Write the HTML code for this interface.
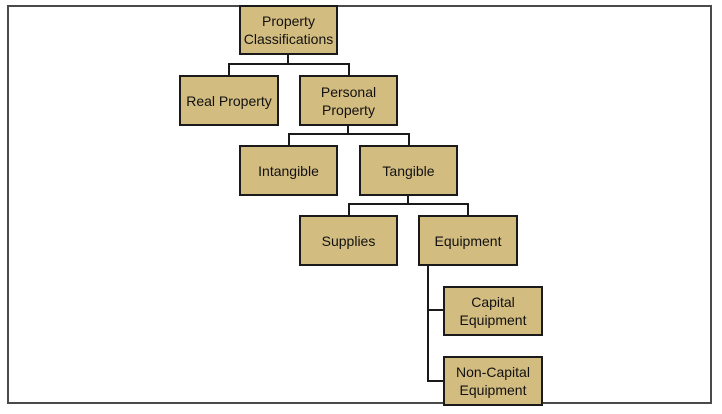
<!DOCTYPE html>
<html><head><meta charset="utf-8"><style>
html,body{margin:0;padding:0;background:#fff;width:722px;height:414px;overflow:hidden;position:relative}
.frame{position:absolute;left:7px;top:5px;width:705px;height:399px;border-left:2px solid #4a4a4a;border-top:2px solid #4a4a4a;border-right:2px solid #4a4a4a;border-bottom:2px solid #4a4a4a;box-sizing:border-box}
.b{position:absolute;box-sizing:border-box;background:#d3bc80;border:2px solid #1a1a1a;display:flex;align-items:center;justify-content:center;text-align:center;font-family:"Liberation Sans",sans-serif;font-size:14px;line-height:18px;color:#111}
.l{position:absolute;background:#1a1a1a}
</style></head><body>
<div class="frame"></div>
<!-- connectors -->
<div class="l" style="left:287px;top:54px;width:2px;height:11px"></div>
<div class="l" style="left:228px;top:63px;width:122px;height:2px"></div>
<div class="l" style="left:228px;top:63px;width:2px;height:13px"></div>
<div class="l" style="left:348px;top:63px;width:2px;height:13px"></div>

<div class="l" style="left:347px;top:124px;width:2px;height:11px"></div>
<div class="l" style="left:288px;top:133px;width:122px;height:2px"></div>
<div class="l" style="left:288px;top:133px;width:2px;height:13px"></div>
<div class="l" style="left:408px;top:133px;width:2px;height:13px"></div>

<div class="l" style="left:407px;top:194px;width:2px;height:11px"></div>
<div class="l" style="left:348px;top:203px;width:121px;height:2px"></div>
<div class="l" style="left:348px;top:203px;width:2px;height:13px"></div>
<div class="l" style="left:467px;top:203px;width:2px;height:13px"></div>

<div class="l" style="left:427px;top:264px;width:2px;height:118px"></div>
<div class="l" style="left:427px;top:309px;width:17px;height:2px"></div>
<div class="l" style="left:427px;top:380px;width:17px;height:2px"></div>

<!-- boxes -->
<div class="b" style="left:239px;top:5px;width:99px;height:50px">Property<br>Classifications</div>
<div class="b" style="left:179px;top:75px;width:100px;height:51px">Real Property</div>
<div class="b" style="left:299px;top:75px;width:99px;height:51px">Personal<br>Property</div>
<div class="b" style="left:239px;top:145px;width:99px;height:51px">Intangible</div>
<div class="b" style="left:359px;top:145px;width:99px;height:51px">Tangible</div>
<div class="b" style="left:299px;top:215px;width:99px;height:51px">Supplies</div>
<div class="b" style="left:418px;top:215px;width:100px;height:51px">Equipment</div>
<div class="b" style="left:443px;top:286px;width:100px;height:50px">Capital<br>Equipment</div>
<div class="b" style="left:443px;top:356px;width:100px;height:50px">Non-Capital<br>Equipment</div>
</body></html>
